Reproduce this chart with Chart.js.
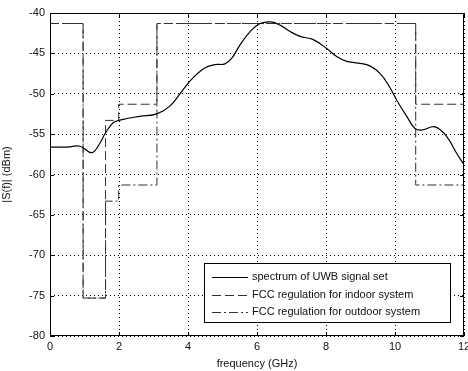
<!DOCTYPE html>
<html>
<head>
<meta charset="utf-8">
<script src="https://cdn.jsdelivr.net/npm/chart.js@4.4.0/dist/chart.umd.min.js"></script>
<style>
  html, body { margin: 0; padding: 0; background: #fff; }
  #wrap { width: 468px; height: 371px; }
</style>
</head>
<body>
<div id="wrap"><canvas id="specChart" width="468" height="371"></canvas></div>
<script>
// spectrum of the UWB signal set (GHz, dBm)
const specFreq = [0, 0.5, 0.87, 1.21, 1.45, 1.6, 1.83, 2.09, 2.6, 3.1, 3.48, 3.82, 4.15, 4.49, 4.78, 5.07, 5.27, 5.5, 5.8, 6.09,
                  6.4, 6.67, 6.96, 7.25, 7.63, 8.02, 8.31, 8.6, 9.18, 9.57, 9.86, 10.05, 10.34, 10.58, 10.77, 11.16, 11.5, 11.79, 12];
const specDbm = [-56.6, -56.6, -56.5, -57.3, -56.1, -54.9, -53.6, -53.2, -52.8, -52.5, -51.5, -49.7, -48.0, -46.8, -46.4, -46.3, -45.6, -44.0, -42.3, -41.3,
                 -41.1, -41.5, -42.3, -42.9, -43.3, -44.4, -45.4, -46.0, -46.4, -47.5, -49.3, -50.8, -52.8, -54.3, -54.5, -54.1, -55.3, -57.4, -58.8];

// FCC masks: band edges and the level held from each edge
const maskEdges = [0, 0.96, 1.61, 1.99, 3.1, 10.6, 12];
const indoorLevels = [-41.3, -75.3, -53.3, -51.3, -41.3, -51.3, -51.3];
const outdoorLevels = [-41.3, -75.3, -63.3, -61.3, -41.3, -61.3, -61.3];

const xTicks = [0, 2, 4, 6, 8, 10, 12];
const yTicks = [-40, -45, -50, -55, -60, -65, -70, -75, -80];

const legendLabels = ['spectrum of UWB signal set', 'FCC regulation for indoor system', 'FCC regulation for outdoor system'];

const FONT = '"Liberation Sans", Arial, sans-serif';
const dashIndoor = [9, 4];
const dashOutdoor = [9, 3, 2, 3];

function pts(xs, ys) {
    return xs.map((x, i) => ({ x: x, y: ys[i] }));
}

// matlab style box, inner ticks and legend
const boxPlugin = {
    id: 'box',
    afterDraw(chart) {
        const ctx = chart.ctx;
        const a = chart.chartArea;
        ctx.save();
        ctx.strokeStyle = '#000';
        ctx.lineWidth = 1;
        ctx.setLineDash([]);
        ctx.strokeRect(a.left + 0.5, a.top + 0.5, a.right - a.left - 1, a.bottom - a.top - 1);

        // tick marks inside the box
        ctx.beginPath();
        chart.scales.x.ticks.forEach(t => {
            const px = Math.round(chart.scales.x.getPixelForValue(t.value)) + 0.5;
            ctx.moveTo(px, a.bottom); ctx.lineTo(px, a.bottom - 4);
            ctx.moveTo(px, a.top); ctx.lineTo(px, a.top + 4);
        });
        chart.scales.y.ticks.forEach(t => {
            const py = Math.round(chart.scales.y.getPixelForValue(t.value)) + 0.5;
            ctx.moveTo(a.left, py); ctx.lineTo(a.left + 4, py);
            ctx.moveTo(a.right, py); ctx.lineTo(a.right - 4, py);
        });
        ctx.stroke();

        // legend
        const lx = a.left + 154, ly = a.top + 250, lw = 246, lh = 59;
        ctx.fillStyle = '#fff';
        ctx.fillRect(lx, ly, lw, lh);
        ctx.strokeRect(lx + 0.5, ly + 0.5, lw, lh);
        ctx.font = '11px ' + FONT;
        ctx.textBaseline = 'middle';
        ctx.textAlign = 'left';
        chart.data.datasets.forEach((ds, i) => {
            const ry = ly + 14 + i * 17.5;
            ctx.strokeStyle = ds.borderColor;
            ctx.setLineDash(ds.borderDash || []);
            ctx.beginPath();
            ctx.moveTo(lx + 8, Math.round(ry) + 0.5);
            ctx.lineTo(lx + 44, Math.round(ry) + 0.5);
            ctx.stroke();
            ctx.fillStyle = '#111';
            ctx.fillText(legendLabels[i], lx + 48, ry);
        });
        ctx.restore();
    }
};

const ctx = document.getElementById('specChart').getContext('2d');
const specChart = new Chart(ctx, {
    type: 'line',
    data: {
        datasets: [
            {
                data: pts(specFreq, specDbm),
                borderColor: '#000',
                borderWidth: 1.2,
                pointRadius: 0,
                tension: 0.4
            },
            {
                data: pts(maskEdges, indoorLevels),
                borderColor: '#333',
                borderWidth: 1,
                borderDash: dashIndoor,
                pointRadius: 0,
                stepped: 'before'
            },
            {
                data: pts(maskEdges, outdoorLevels),
                borderColor: '#333',
                borderWidth: 1,
                borderDash: dashOutdoor,
                pointRadius: 0,
                stepped: 'before'
            }
        ]
    },
    options: {
        responsive: false,
        animation: false,
        events: [],
        layout: { padding: { left: 0, right: 4, top: 13, bottom: 0 } },
        plugins: {
            legend: { display: false },
            tooltip: { enabled: false }
        },
        scales: {
            x: {
                type: 'linear',
                min: 0,
                max: 12,
                afterBuildTicks: s => { s.ticks = xTicks.map(v => ({ value: v })); },
                afterFit: s => { s.height = 35; s.paddingLeft = 0; s.paddingRight = 0; },
                ticks: { color: '#111', font: { family: FONT, size: 11 }, padding: 4, maxRotation: 0 },
                grid: { color: '#000', drawTicks: false, lineWidth: 1 },
                border: { display: false, dash: [1, 3] },
                title: { display: true, text: 'frequency (GHz)', color: '#111', font: { family: FONT, size: 11 }, padding: { top: 1, bottom: 0 } }
            },
            y: {
                min: -80,
                max: -40,
                afterBuildTicks: s => { s.ticks = yTicks.map(v => ({ value: v })); },
                afterFit: s => { s.width = 50; },
                ticks: { color: '#111', font: { family: FONT, size: 11 }, padding: 5 },
                grid: { color: '#000', drawTicks: false, lineWidth: 1 },
                border: { display: false, dash: [1, 3] },
                title: { display: true, text: '|S(f)| (dBm)', color: '#111', font: { family: FONT, size: 11 }, padding: { top: 0, bottom: 2 } }
            }
        }
    },
    plugins: [boxPlugin]
});
</script>
</body>
</html>
